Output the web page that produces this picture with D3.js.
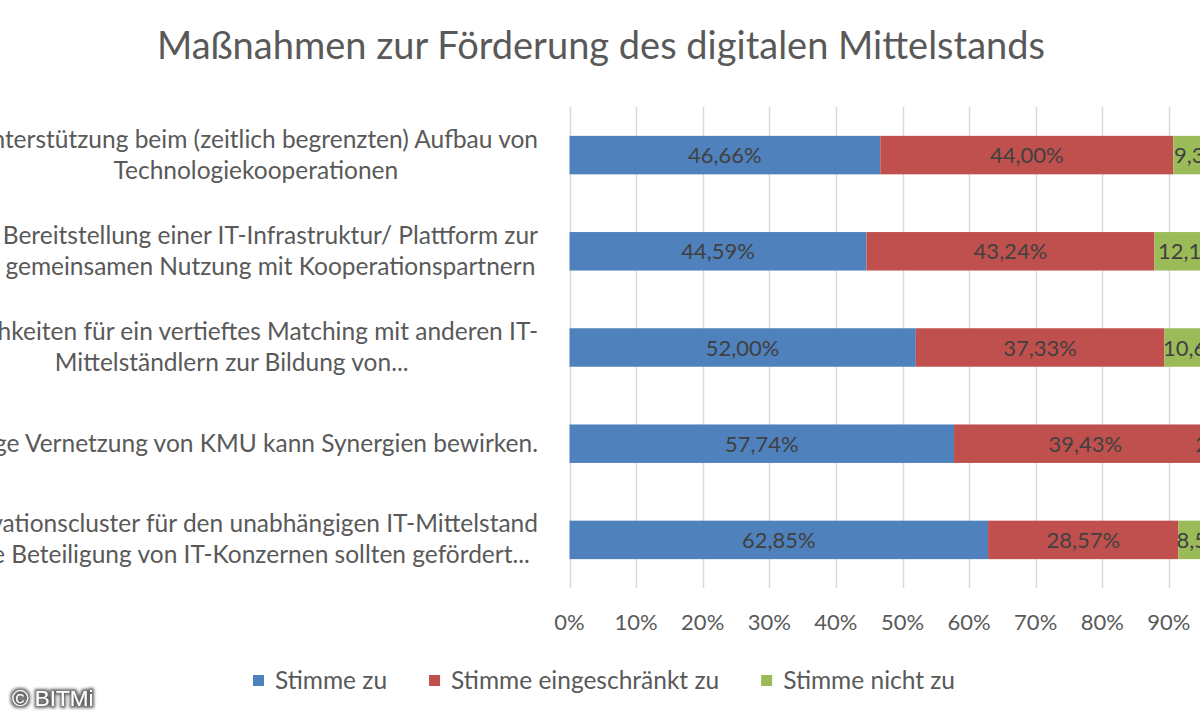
<!DOCTYPE html>
<html>
<head>
<meta charset="utf-8">
<script src="https://cdn.jsdelivr.net/npm/d3@7"></script>
<style>
  body { margin: 0; background: #fff; }
  svg { display: block; font-family: Lato, "Open Sans", sans-serif; }
</style>
</head>
<body>
<div id="chart"></div>
<script>
// Chart data
const title = "Maßnahmen zur Förderung des digitalen Mittelstands";
const categoryLines = [
    ["Unterstützung beim (zeitlich begrenzten) Aufbau von", "Technologiekooperationen"],
    ["Bereitstellung einer IT-Infrastruktur/ Plattform zur", "gemeinsamen Nutzung mit Kooperationspartnern"],
    ["Möglichkeiten für ein vertieftes Matching mit anderen IT-", "Mittelständlern zur Bildung von..."],
    ["Eine enge Vernetzung von KMU kann Synergien bewirken."],
    ["Innovationscluster für den unabhängigen IT-Mittelstand", "ohne Beteiligung von IT-Konzernen sollten gefördert..."]
];
const seriesNames = ["Stimme zu", "Stimme eingeschränkt zu", "Stimme nicht zu"];
const stimmeZu = [46.66, 44.59, 52.00, 57.74, 62.85];
const stimmeEingeschraenkt = [44.00, 43.24, 37.33, 39.43, 28.57];
const stimmeNicht = [9.33, 12.16, 10.66, 2.81, 8.57];
const tickValues = [0, 10, 20, 30, 40, 50, 60, 70, 80, 90, 100];
const colors = ["#4F81BD", "#C0504D", "#9BBB59"];

const width = 1200, height = 720;
const plot = { left: 569.5, right: 1235.5, top: 107, bottom: 588 };

const svg = d3.select("#chart")
    .append("svg")
    .attr("width", width)
    .attr("height", height);

svg.append("rect").attr("width", width).attr("height", height).attr("fill", "#fff");

// Table for the stack layout
const rows = categoryLines.map((lines, i) => ({
    idx: i,
    [seriesNames[0]]: stimmeZu[i],
    [seriesNames[1]]: stimmeEingeschraenkt[i],
    [seriesNames[2]]: stimmeNicht[i]
}));
const stacked = d3.stack().keys(seriesNames)(rows);

const x = d3.scaleLinear().domain([0, 100]).range([plot.left, plot.right]);
const y = d3.scaleBand()
    .domain(d3.range(categoryLines.length))
    .range([plot.top, plot.bottom])
    .paddingInner(0.6)
    .paddingOuter(0.3);

const de = d3.formatLocale({ decimal: ",", thousands: ".", grouping: [3], currency: ["", "€"] });
const pct = v => de.format(".2f")(v) + "%";

// Title
svg.append("text")
    .attr("x", 601)
    .attr("y", 59)
    .attr("text-anchor", "middle")
    .attr("font-size", 38)
    .attr("fill", "#595959")
    .text(title);

// Gridlines
svg.append("g")
    .selectAll("line")
    .data(tickValues)
    .join("line")
    .attr("x1", d => Math.round(x(d)) + 0.5)
    .attr("x2", d => Math.round(x(d)) + 0.5)
    .attr("y1", plot.top)
    .attr("y2", plot.bottom)
    .attr("stroke", "#D9D9D9")
    .attr("stroke-width", 1.5);

// Bars
const layers = svg.append("g")
    .selectAll("g")
    .data(stacked)
    .join("g")
    .attr("fill", (d, i) => colors[i]);

layers.selectAll("rect")
    .data(d => d)
    .join("rect")
    .attr("x", d => x(d[0]))
    .attr("y", d => y(d.data.idx))
    .attr("width", d => x(d[1]) - x(d[0]))
    .attr("height", y.bandwidth());

// Data labels
svg.append("g")
    .selectAll("g")
    .data(stacked)
    .join("g")
    .selectAll("text")
    .data(d => d.map(s => ({ s, v: s[1] - s[0] })))
    .join("text")
    .attr("x", d => (x(d.s[0]) + x(d.s[1])) / 2)
    .attr("y", d => y(d.s.data.idx) + y.bandwidth() / 2 + 8)
    .attr("text-anchor", "middle")
    .attr("font-size", 22)
    .attr("fill", "#404040")
    .text(d => pct(d.v));

// X axis tick labels
svg.append("g")
    .selectAll("text")
    .data(tickValues)
    .join("text")
    .attr("x", d => x(d))
    .attr("y", 630)
    .attr("text-anchor", "middle")
    .attr("font-size", 22)
    .attr("fill", "#595959")
    .text(d => d + "%");

// Category labels: each block right-aligned to the axis, lines centred inside it
const labelRight = 538;
const lineGap = 31;
const catG = svg.append("g");
categoryLines.forEach((lines, i) => {
    const g = catG.append("g");
    const cy = y(i) + y.bandwidth() / 2;
    const texts = lines.map((line, j) => g.append("text")
        .attr("font-size", 24.5)
        .attr("fill", "#595959")
        .attr("text-anchor", "middle")
        .attr("y", cy + 8 + (j - (lines.length - 1) / 2) * lineGap)
        .text(line));
    const maxW = d3.max(texts, t => t.node().getComputedTextLength());
    texts.forEach(t => t.attr("x", labelRight - maxW / 2));
});

// Legend
const legend = svg.append("g");
let lx = 0;
seriesNames.forEach((name, i) => {
    const item = legend.append("g").attr("transform", `translate(${lx},0)`);
    item.append("rect")
        .attr("x", 0).attr("y", -6)
        .attr("width", 11).attr("height", 11)
        .attr("fill", colors[i]);
    const t = item.append("text")
        .attr("x", 22)
        .attr("y", 8)
        .attr("font-size", 24.5)
        .attr("fill", "#595959")
        .text(name);
    lx += 22 + t.node().getComputedTextLength() + 42;
});
const legendW = lx - 42;
legend.attr("transform", `translate(${604 - legendW / 2},681)`);

// Copyright watermark
const defs = svg.append("defs");
const glow = defs.append("filter").attr("id", "glow").attr("x", "-20%").attr("y", "-40%").attr("width", "140%").attr("height", "180%");
glow.append("feMorphology").attr("in", "SourceAlpha").attr("operator", "dilate").attr("radius", 1.5).attr("result", "d");
glow.append("feGaussianBlur").attr("in", "d").attr("stdDeviation", 1.8).attr("result", "b");
glow.append("feFlood").attr("flood-color", "#666");
glow.append("feComposite").attr("in2", "b").attr("operator", "in").attr("result", "s");
const merge = glow.append("feMerge");
merge.append("feMergeNode").attr("in", "s");
merge.append("feMergeNode").attr("in", "SourceGraphic");

svg.append("text")
    .attr("x", 12)
    .attr("y", 706)
    .attr("font-family", "'Liberation Sans', Arial, sans-serif")
    .attr("font-size", 22.5)
    .attr("fill", "#fff")
    .attr("filter", "url(#glow)")
    .text("© BITMi");
</script>
</body>
</html>
